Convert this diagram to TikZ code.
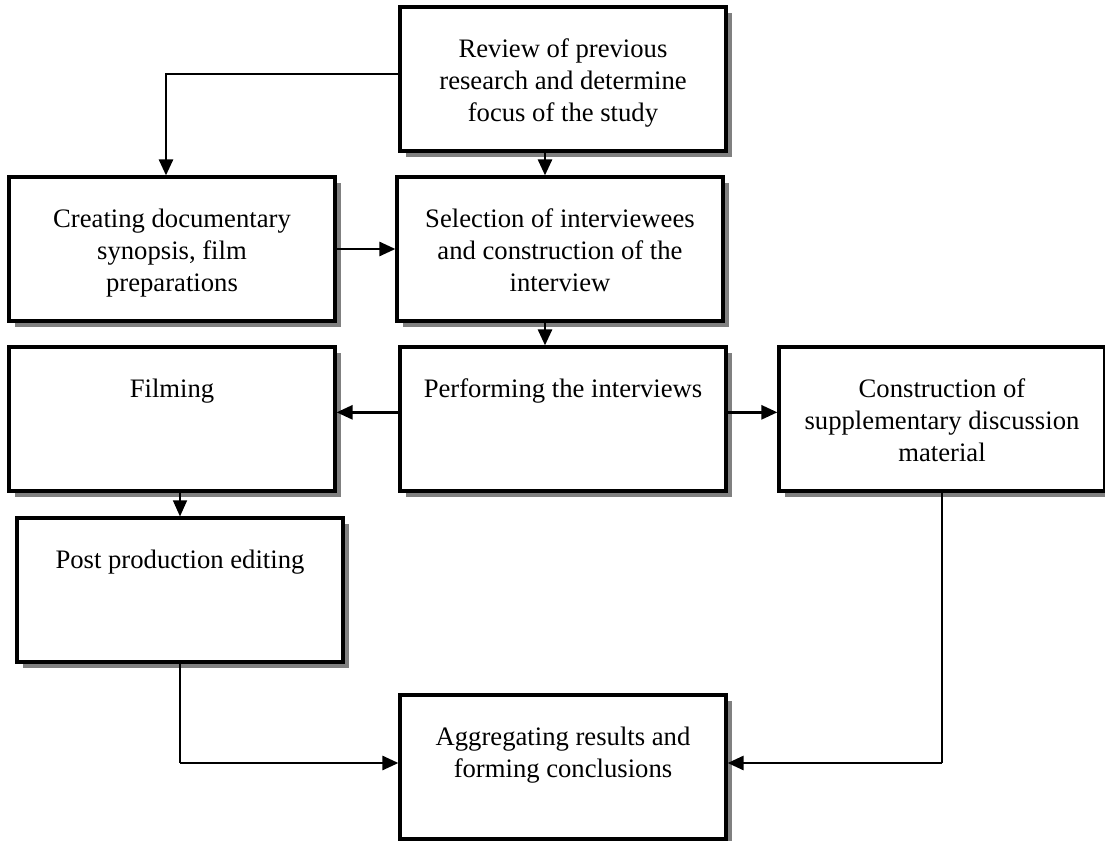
\documentclass[tikz,border=0pt]{standalone}
\usepackage{fontspec}
\setmainfont{Liberation Serif}
\usepackage{tikz}
\usetikzlibrary{positioning}
\usetikzlibrary{arrows.meta,shadows}

\newcommand{\steptext}[1]{\parbox[t][108pt][t]{244.5pt}{\centering\rule{0pt}{38pt}#1}}

\begin{document}
\begin{tikzpicture}[x=0.75pt, y=-0.75pt,
    stepbox/.style = {draw, line width=2.4pt, fill=white, inner sep=0pt, font=\fontsize{20}{24}\selectfont,
        drop shadow={shadow xshift=4.5pt, shadow yshift=-4.5pt, fill=black!50, opacity=1}},
    flow/.style = {line width=2pt, -{Triangle[length=12pt, width=10.5pt]}},
    thinflow/.style = {line width=1.1pt, -{Triangle[length=12pt, width=10.5pt]}}]
        \useasboundingbox (0,0) rectangle (1105,841);

        \node[stepbox] (review) at (563,79) {\steptext{Review of previous\\ research and determine\\ focus of the study}};
        \node[stepbox] (create) at (172,249) {\steptext{Creating documentary\\ synopsis, film\\ preparations}};
        \node[stepbox] (select) at (560,249) {\steptext{Selection of interviewees\\ and construction of the\\ interview}};
        \node[stepbox] (film) at (172,419) {\steptext{Filming}};
        \node[stepbox] (perform) at (563,419) {\steptext{Performing the interviews}};
        \node[stepbox] (constr) at (942,419) {\steptext{Construction of\\ supplementary discussion\\ material}};
        \node[stepbox] (post) at (180,590) {\steptext{Post production editing}};
        \node[stepbox] (aggr) at (563,767) {\steptext{Aggregating results and\\ forming conclusions}};

        \coordinate (spine) at (545,0); % common x of the middle column arrows
        \coordinate (postbend) at (180,763);
        \coordinate (constrbend) at (942,763);

        \draw[flow] ([yshift=3.75pt]review.west) -| ([xshift=-4.5pt]create.north);
        \draw[flow] (review.south -| spine) -- (select.north -| spine);
        \draw[flow] (create.east) -- (select.west);
        \draw[flow] (select.south -| spine) -- (perform.north -| spine);
        \draw[flow] ([yshift=5pt]perform.west) -- ([yshift=5pt]perform.west -| film.east);
        \draw[flow] ([yshift=5pt]perform.east) -- ([yshift=5pt]perform.east -| constr.west);
        \draw[thinflow] (film.south -| post.north) -- (post.north);
        \draw[line width=1.1pt] (post.south) -- (postbend);
        \draw[flow] (postbend) -- (postbend -| aggr.west); % into the results box
        \draw[line width=1.1pt] (constr.south) -- (constrbend);
        \draw[flow] (constrbend) -- (constrbend -| aggr.east);
\end{tikzpicture}
\end{document}
